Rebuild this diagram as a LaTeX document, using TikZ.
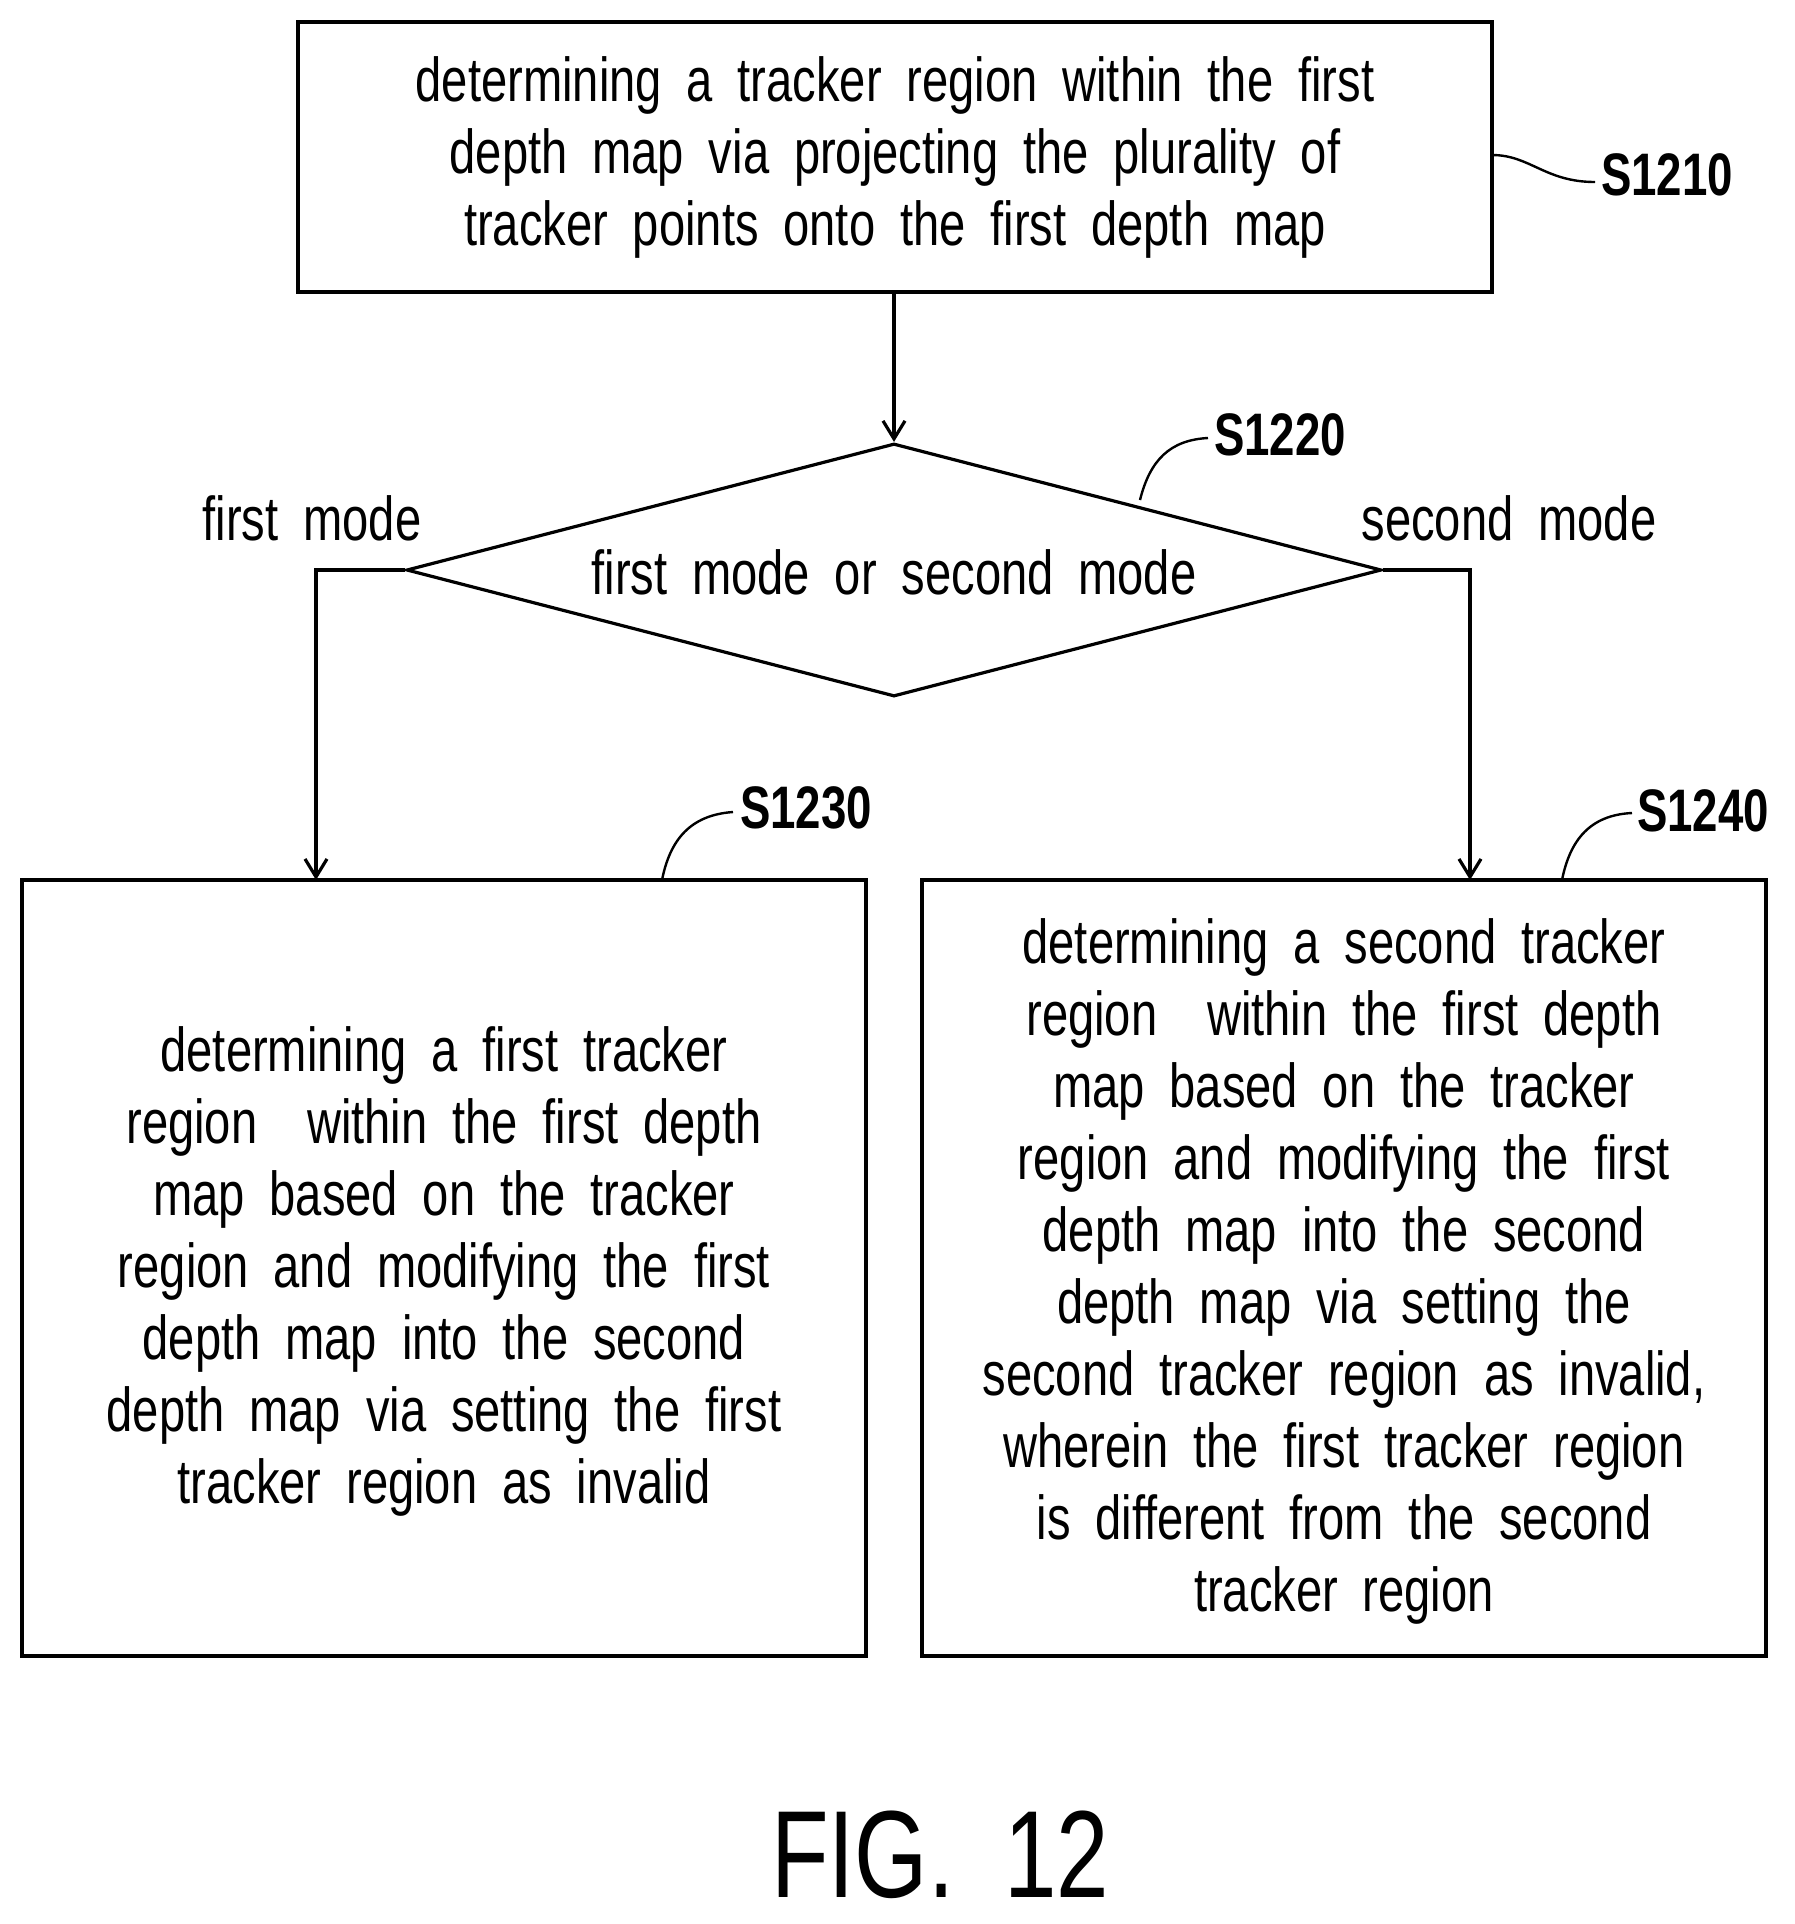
\documentclass[tikz,border=0pt]{standalone}
\usepackage{fontspec}
\setmainfont[FakeStretch=0.76,WordSpace=1.9]{Liberation Sans}
\usetikzlibrary{arrows.meta,shapes.geometric,positioning}
\begin{document}
\begin{tikzpicture}[x=0.5pt,y=-0.5pt,
  StepBox/.style = {draw, line width=1.6pt, inner sep=0pt},
  StepText/.style = {align=center, font=\fontsize{31}{36}\selectfont},
  StepLabel/.style = {font=\fontsize{30}{34}\selectfont\bfseries},
  EdgeStyle/.style = {line width=1.6pt, -{Straight Barb[length=9pt,width=11pt]}},
  TagLine/.style = {line width=1.2pt}]
  \useasboundingbox (0,0) rectangle (1795,1924);
  % boxes
  \draw[StepBox] (298,22) rectangle (1492,292);
  \node[StepText] (s1210) at (895,157) {determining a tracker region within the first\\depth map via projecting the plurality of\\tracker points onto the first depth map};
  \node[draw, line width=1.6pt, diamond, aspect=3.85, minimum width=487.5pt, minimum height=126.5pt, inner sep=0pt] (s1220) at (894,570) {};
  \node[StepText] at (894,572) {first mode or second mode};
  \draw[StepBox] (22,880) rectangle (866,1656);
  \node[StepText] (s1230) at (444,1271) {determining a first tracker\\region \ within the first depth\\map based on the tracker\\region and modifying the first\\depth map into the second\\depth map via setting the first\\tracker region as invalid};
  \draw[StepBox] (922,880) rectangle (1766,1656);
  \node[StepText] (s1240) at (1344,1271) {determining a second tracker\\region \ within the first depth\\map based on the tracker\\region and modifying the first\\depth map into the second\\depth map via setting the\\second tracker region as invalid,\\wherein the first tracker region\\is different from the second\\tracker region};
  % connectors
  \coordinate (top) at (894,292);
  \coordinate (lin) at (316,880);
  \coordinate (rin) at (1470,880);
  \draw[EdgeStyle] (top) -- (s1220.north);
  \draw[EdgeStyle] (s1220.west) -| (lin);
  \draw[EdgeStyle] (s1220.east) -| (rin);
  \node[StepText] (fm) at (312,518) {first mode};
  \node[StepText] (sm) at (1509,518) {second mode};
  % step tags
  \node[StepLabel] (t1210) at (1667,175) {S1210};
  \draw[TagLine] (1492,155) .. controls (1530,155) and (1545,182) .. (1595,182);
  \node[StepLabel] (t1220) at (1280,435) {S1220};
  \draw[TagLine] (1140,500) .. controls (1150,460) and (1170,440) .. (1208,438);
  \node[StepLabel] (t1230) at (806,808) {S1230};
  \draw[TagLine] (662,880) .. controls (670,840) and (690,815) .. (733,812);
  \node[StepLabel] (t1240) at (1703,811) {S1240};
  \draw[TagLine] (1562,880) .. controls (1570,840) and (1590,815) .. (1632,813);
  \node[font=\fontsize{62}{64}\selectfont] (fig) at (940,1855) {FIG. 12};
\end{tikzpicture}
\end{document}
